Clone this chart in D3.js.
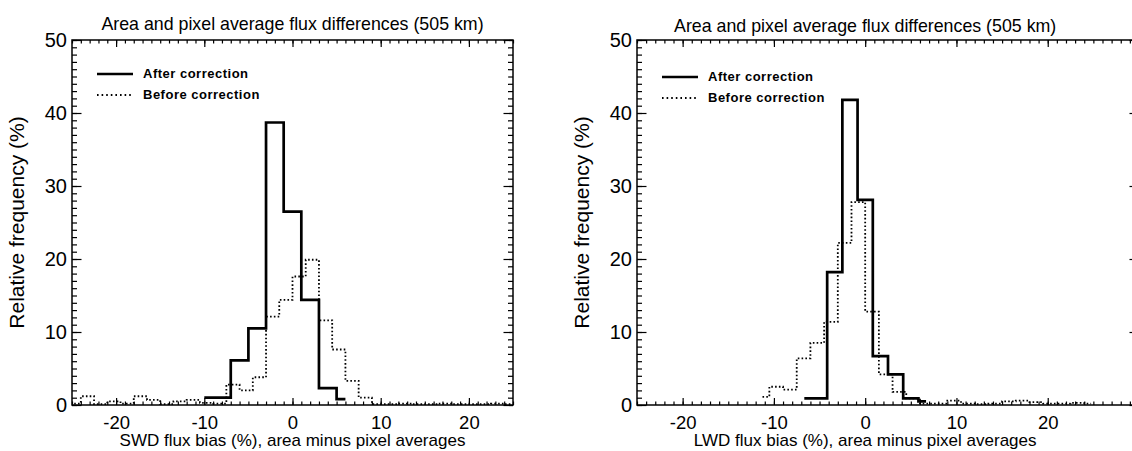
<!DOCTYPE html>
<html>
<head>
<meta charset="utf-8">
<script src="https://cdnjs.cloudflare.com/ajax/libs/d3/7.8.5/d3.min.js"></script>
<style>
  body { margin: 0; background: #fff; }
  text { font-family: "Liberation Sans", Arial, Helvetica, sans-serif; fill: #000; }
</style>
</head>
<body>
<svg id="chart" width="1132" height="451"></svg>
<script>
// ---- data ----
const titleText = "Area and pixel average flux differences (505 km)";
const legendLabels = ["After correction", "Before correction"];
const xTickValues = [-20, -10, 0, 10, 20];
const yTickValues = [0, 10, 20, 30, 40, 50];

// SWD panel (left)
const swdAfterX = [-10, -8, -6, -4, -2, 0, 2, 4, 6];
const swdAfterY = [1.0, 1.0, 6.1, 10.5, 38.7, 26.5, 14.4, 2.3, 0.8];
const swdBeforeX = [-24.75, -23.25, -21.75, -20.25, -18.75, -17.25, -15.75, -14.25, -12.75, -11.25,
  -9.75, -8.25, -6.75, -5.25, -3.75, -2.25, -0.75, 0.75, 2.25, 3.75, 5.25, 6.75, 8.25,
  9.75, 11.25, 12.75, 14.25, 15.75, 17.25, 18.75, 20.25, 21.75, 23.25, 24.75];
const swdBeforeY = [0.2, 1.2, 0.1, 0.5, 0.2, 1.2, 0.7, 0.1, 0.5, 0.7,
  0.3, 0.2, 2.8, 2.0, 3.8, 12.1, 14.4, 17.6, 19.9, 11.6, 7.6, 3.3, 1.0,
  0.1, 0.1, 0.2, 0.1, 0.1, 0.2, 0.1, 0.1, 0.1, 0.2, 0.1];

// LWD panel (right)
const lwdAfterX = [-6.67, -5, -3.33, -1.67, 0, 1.67, 3.33, 5, 6.67];
const lwdAfterY = [0.9, 0.9, 18.2, 41.8, 28.1, 6.7, 4.2, 0.9, 0.5];
const lwdBeforeX = [-11.25, -9.75, -8.25, -6.75, -5.25, -3.75, -2.25, -0.75, 0.75, 2.25, 3.75,
  5.25, 6.75, 8.25, 9.75, 11.25, 12.75, 14.25, 15.75, 17.25, 18.75, 20.25, 21.75, 23.25, 24.75];
const lwdBeforeY = [1.1, 2.5, 2.1, 6.4, 8.5, 11.4, 22.2, 27.8, 12.8, 4.2, 1.8,
  0.9, 0.2, 0.2, 0.6, 0.2, 0.1, 0.2, 0.5, 0.6, 0.4, 0.2, 0.2, 0.3, 0.2];

// ---- layout ----
const svg = d3.select("#chart");
const plotTop = 40, plotBottom = 405;

// right panel runs a bit past +25 and is cut by the page edge, like the scan
const panels = [
  { id: "swd", left: 72, right: 513, xmax: 25, titleY: 30, legendY: 74,
    xlabel: "SWD flux bias (%), area minus pixel averages",
    afterX: swdAfterX, afterY: swdAfterY, beforeX: swdBeforeX, beforeY: swdBeforeY },
  { id: "lwd", left: 637, right: 1139, xmax: 30, titleY: 32, legendY: 77,
    xlabel: "LWD flux bias (%), area minus pixel averages",
    afterX: lwdAfterX, afterY: lwdAfterY, beforeX: lwdBeforeX, beforeY: lwdBeforeY }
];

panels.forEach(drawPanel);

function drawPanel(p) {
  const g = svg.append("g");
  const x = d3.scaleLinear().domain([-25, p.xmax]).range([p.left, p.right]);
  const y = d3.scaleLinear().domain([0, 50]).range([plotBottom, plotTop]);
  const x0 = x(-25), x1 = x(25);   // span used for centring texts

  svg.append("clipPath").attr("id", "clip-" + p.id)
    .append("rect")
    .attr("x", p.left).attr("y", plotTop)
    .attr("width", p.right - p.left).attr("height", plotBottom - plotTop);

  // minor + major ticks on all 4 sides, pointing inwards (IDL box style)
  const xMinor = d3.range(-25, p.xmax + 1, 1);
  const yMinor = d3.range(0, 51, 1);
  const fmt = d => String(d);

  function styleAxis(sel) {
    sel.select(".domain").remove();
    sel.selectAll("line").attr("stroke", "#000").attr("stroke-width", 1.2);
    sel.attr("font-family", null).attr("font-size", null);
  }

  g.append("g").attr("transform", `translate(0,${plotBottom})`)
    .call(d3.axisBottom(x).tickValues(xMinor).tickSize(-3.5).tickFormat(""))
    .call(styleAxis);
  g.append("g").attr("transform", `translate(0,${plotBottom})`)
    .call(d3.axisBottom(x).tickValues(xTickValues).tickSize(-7).tickPadding(11).tickFormat(fmt))
    .call(styleAxis)
    .selectAll("text").style("font-size", "18.5px");

  g.append("g").attr("transform", `translate(0,${plotTop})`)
    .call(d3.axisTop(x).tickValues(xMinor).tickSize(-3.5).tickFormat(""))
    .call(styleAxis);
  g.append("g").attr("transform", `translate(0,${plotTop})`)
    .call(d3.axisTop(x).tickValues(xTickValues).tickSize(-7).tickFormat(""))
    .call(styleAxis);

  g.append("g").attr("transform", `translate(${p.left},0)`)
    .call(d3.axisLeft(y).tickValues(yMinor).tickSize(-5).tickFormat(""))
    .call(styleAxis);
  g.append("g").attr("transform", `translate(${p.left},0)`)
    .call(d3.axisLeft(y).tickValues(yTickValues).tickSize(-9.5).tickPadding(5).tickFormat(fmt))
    .call(styleAxis)
    .selectAll("text").style("font-size", "20px");

  g.append("g").attr("transform", `translate(${p.right},0)`)
    .call(d3.axisRight(y).tickValues(yMinor).tickSize(-5).tickFormat(""))
    .call(styleAxis);
  g.append("g").attr("transform", `translate(${p.right},0)`)
    .call(d3.axisRight(y).tickValues(yTickValues).tickSize(-9.5).tickFormat(""))
    .call(styleAxis);

  // histograms (IDL psym=10 style steps)
  const step = d3.line()
    .x(d => x(d[0]))
    .y(d => y(d[1]))
    .curve(d3.curveStep);

  const hist = g.append("g").attr("clip-path", `url(#clip-${p.id})`);
  hist.append("path")
    .datum(d3.zip(p.beforeX, p.beforeY))
    .attr("d", step)
    .attr("fill", "none")
    .attr("stroke", "#000")
    .attr("stroke-width", 1.8)
    .attr("stroke-dasharray", "1.6,2.2");
  hist.append("path")
    .datum(d3.zip(p.afterX, p.afterY))
    .attr("d", step)
    .attr("fill", "none")
    .attr("stroke", "#000")
    .attr("stroke-width", 2.7);

  // frame
  g.append("rect")
    .attr("x", p.left).attr("y", plotTop)
    .attr("width", p.right - p.left).attr("height", plotBottom - plotTop)
    .attr("fill", "none").attr("stroke", "#000").attr("stroke-width", 1.5);

  // legend
  const lg = g.append("g");
  [0, 1].forEach(i => {
    const ly = p.legendY + i * 21;
    lg.append("line")
      .attr("x1", p.left + 25).attr("x2", p.left + 61)
      .attr("y1", ly).attr("y2", ly)
      .attr("stroke", "#000")
      .attr("stroke-width", i === 0 ? 2.7 : 1.8)
      .attr("stroke-dasharray", i === 0 ? null : "1.6,3");
    lg.append("text")
      .attr("x", p.left + 71).attr("y", ly + 4)
      .style("font-size", "13px")
      .style("font-weight", "bold")
      .style("letter-spacing", "0.5px")
      .text(legendLabels[i]);
  });

  // titles
  const cx = (x0 + x1) / 2;
  g.append("text")
    .attr("x", cx).attr("y", p.titleY)
    .attr("text-anchor", "middle")
    .style("font-size", "17.8px")
    .text(titleText);

  g.append("text")
    .attr("x", cx).attr("y", 446)
    .attr("text-anchor", "middle")
    .style("font-size", "17px")
    .text(p.xlabel);

  g.append("text")
    .attr("transform", `translate(${p.left - 48},${(plotTop + plotBottom) / 2}) rotate(-90)`)
    .attr("text-anchor", "middle")
    .style("font-size", "21px")
    .text("Relative frequency (%)");
}
</script>
</body>
</html>
